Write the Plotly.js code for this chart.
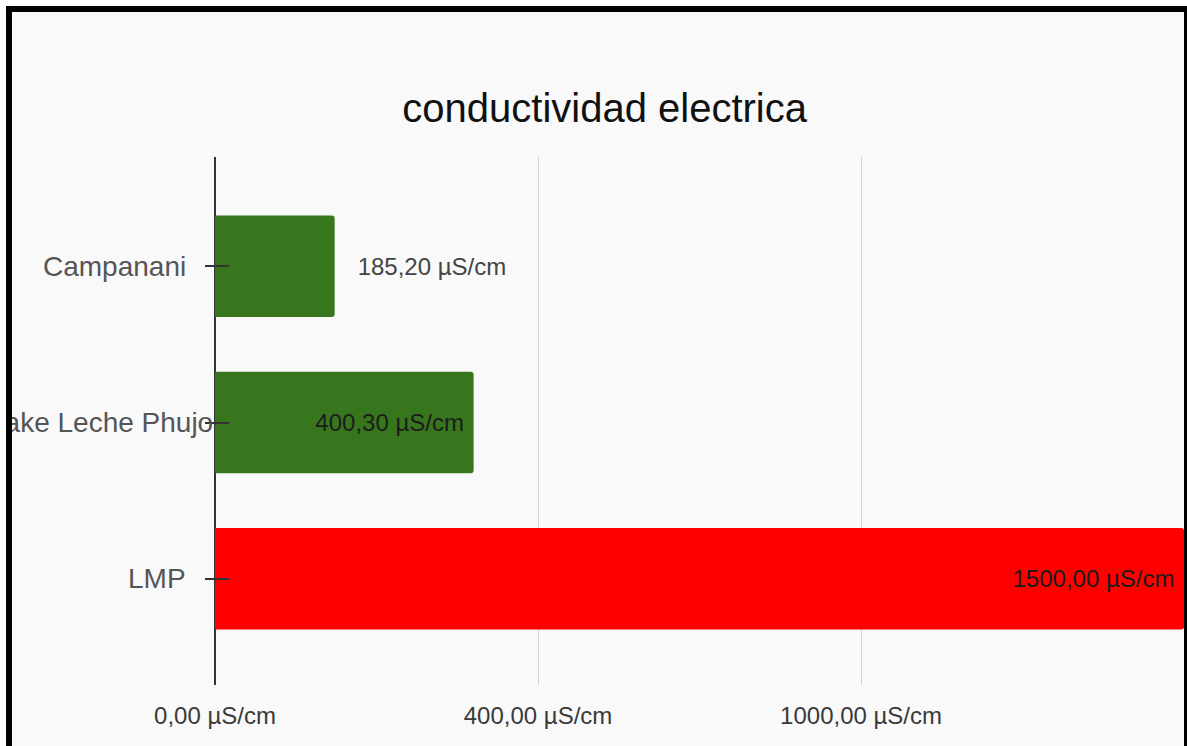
<!DOCTYPE html>
<html>
<head>
<meta charset="utf-8">
<script src="https://cdn.plot.ly/plotly-3.0.1.min.js"></script>
<style>
  html, body { margin: 0; padding: 0; background: #ffffff; width: 1187px; height: 746px; overflow: hidden; }
  #frame {
    position: absolute; left: 6px; top: 6px;
    width: 1172px; height: 734px;
    border-top: 6px solid #000; border-left: 6px solid #000; border-right: 3px solid #000;
    background: #f9f9f9; overflow: hidden;
  }
  #chart { position: absolute; left: 0; top: 0; width: 1190px; height: 734px; }
</style>
</head>
<body>
<div id="frame"><div id="chart"></div></div>
<script>
// Conductividad eléctrica por punto de muestreo (µS/cm)
const categories = ["Campanani", "Lake Leche Phujo", "LMP"];
const conductivity = [185.20, 400.30, 1500.00];

// Eje horizontal
const xTickVals = [0, 500, 1000];
const xTickText = ["0,00 µS/cm", "400,00 µS/cm", "1000,00 µS/cm"];

// Estilo
const barColors = ["#38761d", "#38761d", "#ff0000"];
const labelShift = { "Lake Leche Phujo": 27 };
const FONT = "Liberation Sans, Arial, sans-serif";

const trace = {
  type: "bar",
  orientation: "h",
  y: categories,
  x: conductivity,
  width: 0.65,
  marker: { color: barColors, cornerradius: 3 },
  texttemplate: "\u00a0\u00a0\u00a0%{x:.2f} µS/cm\u00a0",
  textposition: "auto",
  insidetextanchor: "end",
  constraintext: "none",
  textfont: { family: FONT, size: 24 },
  insidetextfont: { family: FONT, size: 24, color: "#1c1c1c" },
  outsidetextfont: { family: FONT, size: 24, color: "#444444" },
  hoverinfo: "skip"
};

const annotations = categories.map(c => ({
  x: 0, xref: "x", y: c, yref: "y",
  xanchor: "right", yanchor: "middle",
  xshift: -27 + (labelShift[c] || 0),
  text: c, showarrow: false,
  font: { family: FONT, size: 28, color: "#555555" }
}));

const layout = {
  width: 1190, height: 734,
  margin: { l: 203, r: 5, t: 145, b: 61 },
  paper_bgcolor: "#f9f9f9",
  plot_bgcolor: "#f9f9f9",
  separators: ",.",
  showlegend: false,
  title: {
    text: "conductividad electrica",
    font: { family: FONT, size: 40, color: "#111111" },
    xref: "container", x: 0.498, xanchor: "center",
    yref: "container", y: 0.869, yanchor: "middle"
  },
  xaxis: {
    range: [0, 1520],
    tickvals: xTickVals, ticktext: xTickText,
    ticks: "",
    ticklabelstandoff: 14,
    showgrid: true, gridcolor: "#d2d2d2", gridwidth: 1,
    zeroline: true, zerolinecolor: "#333333", zerolinewidth: 2,
    showline: false,
    tickfont: { family: FONT, size: 24, color: "#3a3a3a" },
    fixedrange: true
  },
  yaxis: {
    type: "category",
    categoryarray: categories,
    range: [2.68, -0.70],
    anchor: "free", position: 14 / 982,
    showgrid: false, zeroline: false, showline: false,
    ticks: "outside", ticklen: 24, tickwidth: 2, tickcolor: "#333333",
    showticklabels: false,
    fixedrange: true
  },
  annotations: annotations
};

Plotly.newPlot("chart", [trace], layout, { displayModeBar: false, staticPlot: true });
</script>
</body>
</html>
